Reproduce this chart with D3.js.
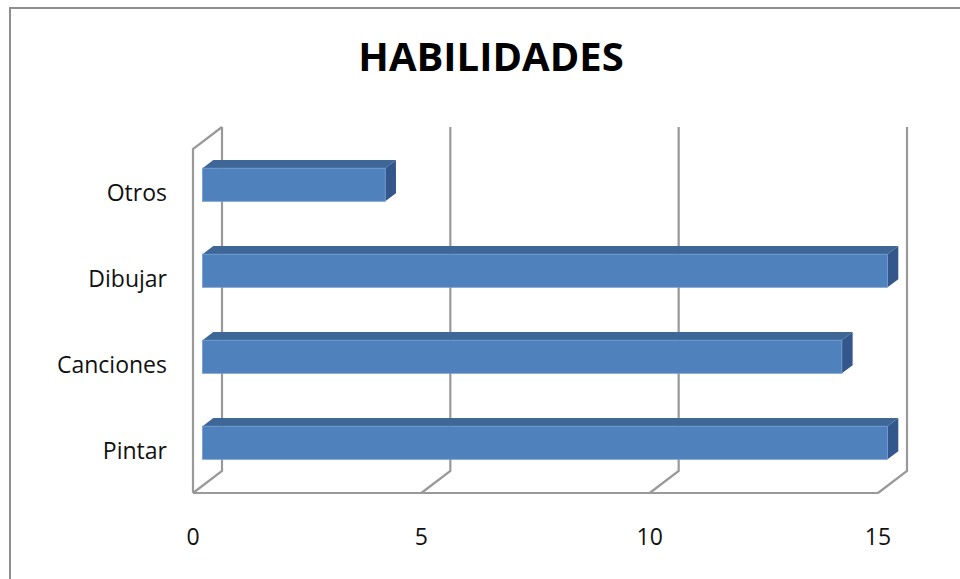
<!DOCTYPE html>
<html>
<head>
<meta charset="utf-8">
<script src="https://cdn.jsdelivr.net/npm/d3@7"></script>
<style>
  body { margin: 0; background: #fff; }
  svg { display: block; }
</style>
</head>
<body>
<script>
'use strict';

// chart data
const categories = ["Otros", "Dibujar", "Canciones", "Pintar"];
const values = [4, 15, 14, 15];
const tickValues = [0, 5, 10, 15];
const chartTitle = "HABILIDADES";

(function () {
  const width = 960, height = 579;

  // 3d depth vector of the plot box (back minus front)
  const depth = { dx: 29, dy: -22 };
  // bar sits between these depth fractions
  const barNear = 0.33, barFar = 0.70;

  const svg = d3.select("body").append("svg")
    .attr("width", width)
    .attr("height", height);

  // outer chart frame (only top and left edges show)
  svg.append("path")
    .attr("d", "M10,579 L10,8 L960,8")
    .attr("fill", "none")
    .attr("stroke", "#8f8f8f")
    .attr("stroke-width", 2);

  // scales on the front plane
  const xFront = d3.scaleLinear().domain([0, 15]).range([193, 878]);
  const yFront = d3.scaleBand().domain(categories)
    .range([149, 493])
    .paddingInner(0.615)
    .paddingOuter(0.3075);

  const top = 149, bottom = 493;
  const gridColor = "#999";

  let grid = svg.append("g")
    .attr("fill", "none")
    .attr("stroke", gridColor)
    .attr("stroke-width", 2.2);

  // left wall
  grid.append("path")
    .attr("d", `M${xFront(0)},${bottom} L${xFront(0)},${top} L${xFront(0) + depth.dx},${top + depth.dy}`);

  // floor front edge
  grid.append("line")
    .attr("x1", xFront(0)).attr("x2", xFront(15))
    .attr("y1", bottom).attr("y2", bottom);

  // back gridlines and floor diagonals
  grid.selectAll(".gl")
    .data(tickValues)
    .enter()
    .append("path")
    .attr("class", "gl")
    .attr("d", (d) => {
      let x = xFront(d);
      return `M${x},${bottom} L${x + depth.dx},${bottom + depth.dy} L${x + depth.dx},${top + depth.dy}`;
    });

  // bars
  const nx = depth.dx * barNear, ny = depth.dy * barNear;
  const fx = depth.dx * (barFar - barNear), fy = depth.dy * (barFar - barNear);

  let bars = svg.selectAll(".bar")
    .data(categories.map((c, i) => ({ cat: c, val: values[i] })))
    .enter()
    .append("g")
    .attr("class", "bar");

  bars.each(function (d) {
    let g = d3.select(this);
    let x0 = xFront(0) + nx;
    let x1 = xFront(d.val) + nx;
    let y0 = yFront(d.cat) + ny;
    let h = yFront.bandwidth();

    // top face
    g.append("path")
      .attr("d", `M${x0},${y0} L${x0 + fx},${y0 + fy} L${x1 + fx},${y0 + fy} L${x1},${y0} Z`)
      .attr("fill", "#3e6697");
    // right side face
    g.append("path")
      .attr("d", `M${x1},${y0} L${x1 + fx},${y0 + fy} L${x1 + fx},${y0 + h + fy} L${x1},${y0 + h} Z`)
      .attr("fill", "#33578a");
    // front face
    g.append("rect")
      .attr("x", x0)
      .attr("y", y0)
      .attr("width", x1 - x0)
      .attr("height", h)
      .attr("fill", "#4f81bd")
      .attr("stroke", "#6f9ad0")
      .attr("stroke-width", 0.8);
  });

  // category labels
  svg.selectAll(".cat")
    .data(categories)
    .enter()
    .append("text")
    .attr("class", "cat")
    .attr("x", 167)
    .attr("y", (d) => yFront(d) + yFront.bandwidth() / 2 + 3)
    .attr("text-anchor", "end")
    .attr("dominant-baseline", "middle")
    .style("font-family", "'Open Sans', sans-serif")
    .style("font-size", "23px")
    .style("fill", "#111")
    .text((d) => d);

  // value tick labels
  svg.selectAll(".tick")
    .data(tickValues)
    .enter()
    .append("text")
    .attr("class", "tick")
    .attr("x", (d) => xFront(d))
    .attr("y", 545)
    .attr("text-anchor", "middle")
    .style("font-family", "'Open Sans', sans-serif")
    .style("font-size", "23px")
    .style("fill", "#111")
    .text((d) => d);

  // title
  svg.append("text")
    .attr("x", 491)
    .attr("y", 71)
    .attr("text-anchor", "middle")
    .style("font-family", "'Open Sans', sans-serif")
    .style("font-weight", "bold")
    .style("font-size", "40px")
    .style("fill", "#000")
    .text(chartTitle);
})();
</script>
</body>
</html>
